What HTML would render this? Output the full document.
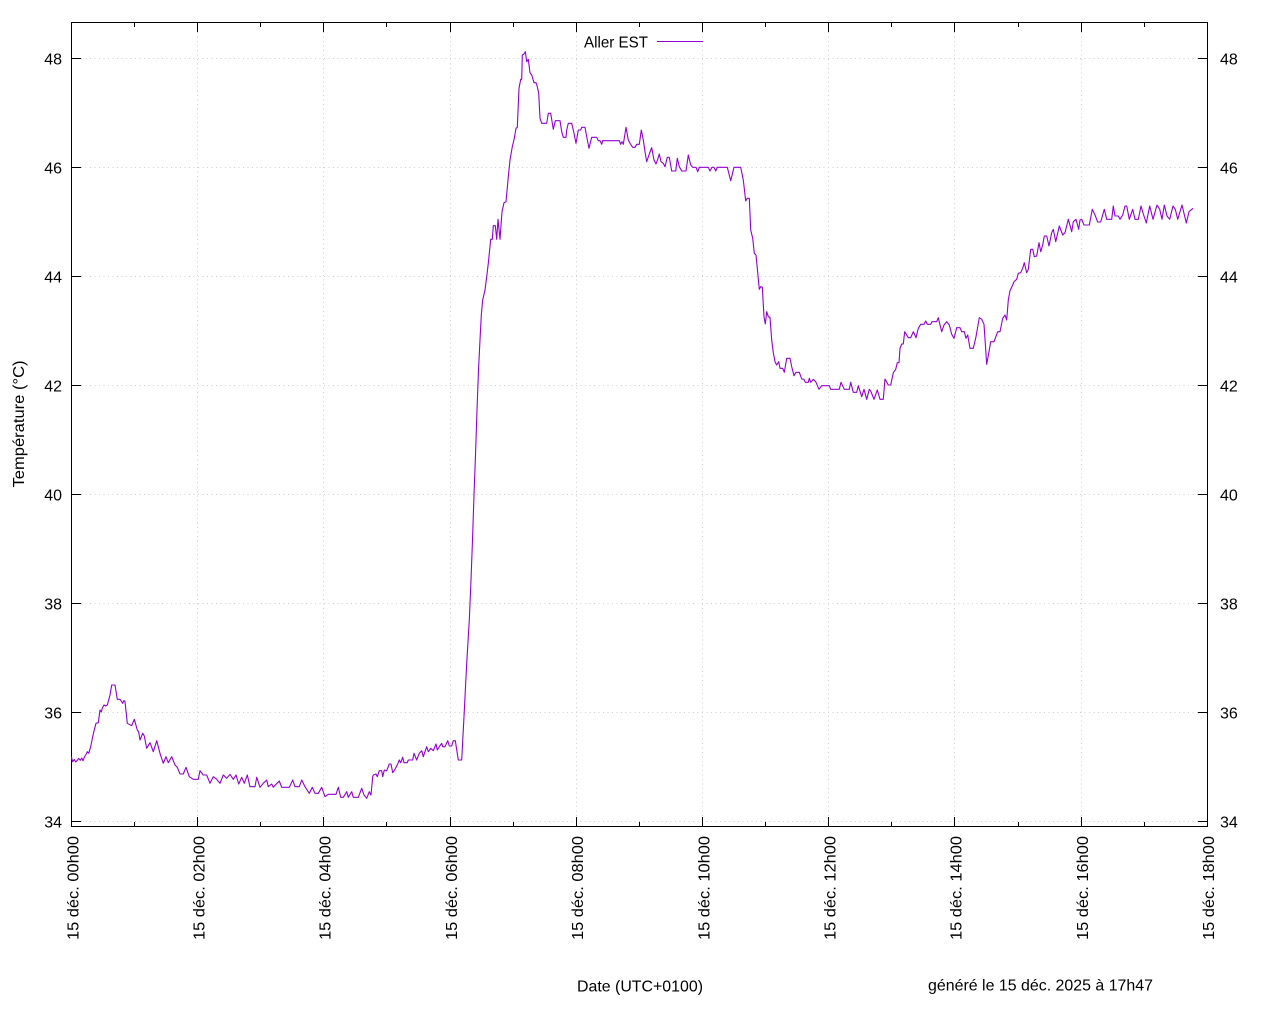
<!DOCTYPE html>
<html>
<head>
<meta charset="utf-8">
<style>
html,body{margin:0;padding:0;background:#fff;}
svg{display:block;}
text{font-family:"Liberation Sans","DejaVu Sans",sans-serif;fill:#000;}
</style>
</head>
<body>
<svg width="1280" height="1024" viewBox="0 0 1280 1024" xmlns="http://www.w3.org/2000/svg">
<rect x="0" y="0" width="1280" height="1024" fill="#fff"/>
<!-- grid -->
<g stroke="#cfcfcf" stroke-width="1" stroke-dasharray="1,3.5" fill="none">
<line x1="72" y1="58.5" x2="1207" y2="58.5"/>
<line x1="72" y1="167.5" x2="1207" y2="167.5"/>
<line x1="72" y1="276.5" x2="1207" y2="276.5"/>
<line x1="72" y1="385.5" x2="1207" y2="385.5"/>
<line x1="72" y1="494.5" x2="1207" y2="494.5"/>
<line x1="72" y1="603.5" x2="1207" y2="603.5"/>
<line x1="72" y1="712.5" x2="1207" y2="712.5"/>
<line x1="72" y1="821.5" x2="1207" y2="821.5"/>
<line x1="197.5" y1="23" x2="197.5" y2="826"/>
<line x1="323.5" y1="23" x2="323.5" y2="826"/>
<line x1="450.5" y1="23" x2="450.5" y2="826"/>
<line x1="576.5" y1="23" x2="576.5" y2="826"/>
<line x1="702.5" y1="23" x2="702.5" y2="826"/>
<line x1="828.5" y1="23" x2="828.5" y2="826"/>
<line x1="954.5" y1="23" x2="954.5" y2="826"/>
<line x1="1081.5" y1="23" x2="1081.5" y2="826"/>
</g>
<!-- frame -->
<rect x="71.5" y="22.5" width="1136" height="804" fill="none" stroke="#000" stroke-width="1"/>
<!-- ticks -->
<g stroke="#000" stroke-width="1">
<line x1="72" y1="58.5" x2="81" y2="58.5"/><line x1="1198" y1="58.5" x2="1207" y2="58.5"/>
<line x1="72" y1="167.5" x2="81" y2="167.5"/><line x1="1198" y1="167.5" x2="1207" y2="167.5"/>
<line x1="72" y1="276.5" x2="81" y2="276.5"/><line x1="1198" y1="276.5" x2="1207" y2="276.5"/>
<line x1="72" y1="385.5" x2="81" y2="385.5"/><line x1="1198" y1="385.5" x2="1207" y2="385.5"/>
<line x1="72" y1="494.5" x2="81" y2="494.5"/><line x1="1198" y1="494.5" x2="1207" y2="494.5"/>
<line x1="72" y1="603.5" x2="81" y2="603.5"/><line x1="1198" y1="603.5" x2="1207" y2="603.5"/>
<line x1="72" y1="712.5" x2="81" y2="712.5"/><line x1="1198" y1="712.5" x2="1207" y2="712.5"/>
<line x1="72" y1="821.5" x2="81" y2="821.5"/><line x1="1198" y1="821.5" x2="1207" y2="821.5"/>
<line x1="197.5" y1="817" x2="197.5" y2="826"/><line x1="197.5" y1="23" x2="197.5" y2="32"/>
<line x1="323.5" y1="817" x2="323.5" y2="826"/><line x1="323.5" y1="23" x2="323.5" y2="32"/>
<line x1="450.5" y1="817" x2="450.5" y2="826"/><line x1="450.5" y1="23" x2="450.5" y2="32"/>
<line x1="576.5" y1="817" x2="576.5" y2="826"/><line x1="576.5" y1="23" x2="576.5" y2="32"/>
<line x1="702.5" y1="817" x2="702.5" y2="826"/><line x1="702.5" y1="23" x2="702.5" y2="32"/>
<line x1="828.5" y1="817" x2="828.5" y2="826"/><line x1="828.5" y1="23" x2="828.5" y2="32"/>
<line x1="954.5" y1="817" x2="954.5" y2="826"/><line x1="954.5" y1="23" x2="954.5" y2="32"/>
<line x1="1081.5" y1="817" x2="1081.5" y2="826"/><line x1="1081.5" y1="23" x2="1081.5" y2="32"/>
<line x1="134.5" y1="822" x2="134.5" y2="826"/><line x1="134.5" y1="23" x2="134.5" y2="27"/>
<line x1="260.5" y1="822" x2="260.5" y2="826"/><line x1="260.5" y1="23" x2="260.5" y2="27"/>
<line x1="386.5" y1="822" x2="386.5" y2="826"/><line x1="386.5" y1="23" x2="386.5" y2="27"/>
<line x1="513.5" y1="822" x2="513.5" y2="826"/><line x1="513.5" y1="23" x2="513.5" y2="27"/>
<line x1="639.5" y1="822" x2="639.5" y2="826"/><line x1="639.5" y1="23" x2="639.5" y2="27"/>
<line x1="765.5" y1="822" x2="765.5" y2="826"/><line x1="765.5" y1="23" x2="765.5" y2="27"/>
<line x1="891.5" y1="822" x2="891.5" y2="826"/><line x1="891.5" y1="23" x2="891.5" y2="27"/>
<line x1="1018.5" y1="822" x2="1018.5" y2="826"/><line x1="1018.5" y1="23" x2="1018.5" y2="27"/>
<line x1="1144.5" y1="822" x2="1144.5" y2="826"/><line x1="1144.5" y1="23" x2="1144.5" y2="27"/>
</g>
<!-- y tick labels -->
<g font-size="16" text-anchor="end">
<text x="62" y="64.5">48</text>
<text x="62" y="173.5">46</text>
<text x="62" y="282.5">44</text>
<text x="62" y="391.5">42</text>
<text x="62" y="500.5">40</text>
<text x="62" y="609.5">38</text>
<text x="62" y="718.5">36</text>
<text x="62" y="827.5">34</text>
</g>
<g font-size="16" text-anchor="start">
<text x="1220" y="64.5">48</text>
<text x="1220" y="173.5">46</text>
<text x="1220" y="282.5">44</text>
<text x="1220" y="391.5">42</text>
<text x="1220" y="500.5">40</text>
<text x="1220" y="609.5">38</text>
<text x="1220" y="718.5">36</text>
<text x="1220" y="827.5">34</text>
</g>
<!-- x tick labels -->
<g font-size="16" text-anchor="end">
<text transform="translate(78.5,836) rotate(-90)" textLength="104" lengthAdjust="spacingAndGlyphs">15 déc. 00h00</text>
<text transform="translate(204.5,836) rotate(-90)" textLength="104" lengthAdjust="spacingAndGlyphs">15 déc. 02h00</text>
<text transform="translate(330.5,836) rotate(-90)" textLength="104" lengthAdjust="spacingAndGlyphs">15 déc. 04h00</text>
<text transform="translate(457,836) rotate(-90)" textLength="104" lengthAdjust="spacingAndGlyphs">15 déc. 06h00</text>
<text transform="translate(583,836) rotate(-90)" textLength="104" lengthAdjust="spacingAndGlyphs">15 déc. 08h00</text>
<text transform="translate(709.5,836) rotate(-90)" textLength="104" lengthAdjust="spacingAndGlyphs">15 déc. 10h00</text>
<text transform="translate(835.5,836) rotate(-90)" textLength="104" lengthAdjust="spacingAndGlyphs">15 déc. 12h00</text>
<text transform="translate(961.5,836) rotate(-90)" textLength="104" lengthAdjust="spacingAndGlyphs">15 déc. 14h00</text>
<text transform="translate(1088,836) rotate(-90)" textLength="104" lengthAdjust="spacingAndGlyphs">15 déc. 16h00</text>
<text transform="translate(1214,836) rotate(-90)" textLength="104" lengthAdjust="spacingAndGlyphs">15 déc. 18h00</text>
</g>
<!-- axis labels -->
<text transform="translate(24,424) rotate(-90)" font-size="16" text-anchor="middle" textLength="127" lengthAdjust="spacingAndGlyphs">Température (°C)</text>
<text x="577" y="991.5" font-size="16" textLength="126" lengthAdjust="spacingAndGlyphs">Date (UTC+0100)</text>
<text x="928" y="990.5" font-size="16" textLength="225" lengthAdjust="spacingAndGlyphs">généré le 15 déc. 2025 à 17h47</text>
<!-- legend -->
<text x="648" y="47.5" font-size="16" text-anchor="end" textLength="64" lengthAdjust="spacingAndGlyphs">Aller EST</text>
<line x1="657" y1="41.5" x2="703" y2="41.5" stroke="#9400d3" stroke-width="1"/>
<!-- data -->
<polyline fill="none" stroke="#9400d3" stroke-width="1.1" stroke-linejoin="round" points="
71.3,756.7 72.7,761.7 74.3,759.5 75.7,762 77.3,760.3 78.7,758.3 80.3,760.3 81.7,758 83,760.7 84.7,756.5 86.3,754 87.3,751.7 88.7,753.3 90.7,746.7 92.7,736.7 94,731 96,723.3 98.3,722.7 100,710 101.3,712 102.3,708 104,705 105.7,706 107.3,705 110,695 111.7,685 115,685 117.3,699.3 120,699.3 122.7,703.3 124,700.5 125,701.7 127.3,723.3 131.7,725.7 134.3,719.3 137.3,730 138.7,732 140,740 142.7,733.3 144.3,736 146.7,748.3 150,742.7 153.3,751.7 156.7,740.7 160,753.3 163.3,763.3 166,756.7 168.3,762.7 171.7,756.7 175,765 177.3,767.3 180,774 183.3,774 186,767.3 189.3,776.7 193.3,779.3 198.3,779.3 200,770.7 203.3,775 206.7,775
210,783.3 213.3,776.7 216.7,779.3 220,783.3 223.3,775 226.7,778.3 230,774.3 233.3,779.3 236,775 238.7,784 241.7,777.3 244.3,783.3 247.3,775 250,786.7 255,786.7 256.7,777.3 260,787.3 263.3,783.3 266.7,780 268.3,786.7 271.7,784 273.3,787.3 276,784.3 279.3,781 281.7,787.3 289.3,787.3 292.7,780 295,786.7 299.3,786.7 301.7,780 305,786.7 309.3,793.3 312.3,787.3 315,793.3 318.3,793.3 321.7,787.3 325,796.7 328.3,794.3 336,794.3 338.3,787.3 340.7,797.3 343.3,797.3 346.7,791.7 348.3,797.3 351.7,791.7 353.3,797.3 358.3,797.3 361.7,788.3 364,795 366.7,798.3 369.3,791.7 371,795
372.7,776.7 373.3,775 376,774 377.3,776.7 379.3,770.7 381.7,770.7 382.7,776.7 384.3,770 386.7,770.7 389.3,764 391,764 392.7,772.7 395,769.3 397.7,764 399.3,760 400.7,762.7 402.7,757.3 404,762.7 407.3,762.7 408.3,760 412.7,760 414,753.3 416.7,760 419.3,753.3 421.7,750.7 423.3,756.7 426.7,746.7 428.3,751.7 430.7,748.3 433.3,750.7 436,744 437.3,750 439.3,746.7 441.7,743.3 442.7,746.7 445,746.7 447.7,740.7 449.3,746 451.7,746 453.3,740.7 455.3,740.7 458.3,760 461.7,760
464,716.7 466.7,663.3 469.3,620 471,580 472.5,540 474,495 475.5,455 477,410 478.5,370 480,340 481.3,315 482.7,300 485,290 486.7,276.7 488.3,263.3 490.7,239.3 492.3,239.3 493.3,225.7 495.3,225.7 496.7,239.3 498,219.3 500,239.3 502,211.7 504,202.7 506,201.7 508.3,176.7 510,160 512.3,146.7 514.3,138.3 516,128.3 517.3,127.3 519,88.3 520.7,79.3 521.7,79.3 522.3,55 524,54 525.3,51.7 526.7,61.7 528.3,59.3 530,72.7 531.7,75 534,82.7 536,82.7 537.3,86.7 538.7,93.3 540,118.3 541.7,123.3 546.7,123.3 548.3,113.3 550.7,113.3 553.3,129.3 555.3,120.7 560,120.7 561.7,131.7 563.3,137.3 566,137.3 566.7,130 568.3,123.3 571.7,123.3 574,133.3 576,143.3 578.3,130
580.7,130 581.7,127.3 585,127.3 586.7,136.7 589,148.3 591.7,137.3 596.7,137.3 598.3,140.7 600,140.7 601.7,144.3 602.7,140.7 619.3,140.7 620.7,144.3 622,141.7 623.3,144.3 626,127.3 628.3,140 630,143.3 632.7,147.3 635,147.3 636.7,144.3 639.3,144.3 641.3,130 643.3,140 645,151.7 646.7,161.7 649.3,154 651.7,147.7 654,160 656,164 657.7,159.3 659.3,154 661,161.7 663.3,163.3 665,166.7 667.3,157.3 669.3,157.3 671.7,171 675.7,171 677.3,158.3 679.3,166.7 681.7,171 686,171 688.3,155 690.7,165 692.7,167.3 696,167.3 697.7,171.7 699.3,167.3 708.3,167.3 710,171 712,167.3 714,167.3 715.7,171 717.3,167.3 727.3,167.3 730.7,180.7 734,167.3 740.7,167.3 743.3,180 745.7,201 747.3,198.3 749.3,198.3
750.7,230 752.7,238.3 754.3,253.3 756,255 757.3,268.3 759.3,289.3 760.7,286.7 762.3,287.3 764,316.7 765.3,324 766.7,311.7 768.3,316.7 770,317.3 771.7,340 773.3,352.7 775,361.7 776.7,365 778.7,361.7 780,368.3 782.7,368.3 784.3,372.3 786.7,358.3 790,358.3 791.7,366.7 794,375.7 796,372.3 799.3,372.3 801.7,379 804,379.3 805.3,382.3 808.3,382.3 809.3,378.3 810.7,382.3 813.3,379.3 815.7,381.7 819,389.3 821.7,385.7 829.3,385.7 830.7,389.3 839.3,389.3 841,382.3 844.3,389.3 849.3,389.3 850.7,382.3 853.3,392.3 856.7,392.3 858.3,385.7 861.7,396.7 864,389.3 866.7,399.3 869.3,389.3 870.7,391 874,399.3 877.3,390 880,399.3 883.3,399.3 885,379 888.3,385 890.7,385 893.3,372.7 895.7,369.3 897.3,362.7 899,362.7
900,348.3 901.7,344 903.3,344 904.7,331.7 908.3,337.7 910.7,337.7 913.3,331.7 916,337.7 918.3,328.3 920.7,324.3 924,324.3 925.7,321 927.3,324.3 930.7,324.3 932,321.7 936.7,321.7 938.3,317.7 941.7,331.7 944,325 946.7,321.7 949.3,325 951.7,334.3 954,338.3 956.7,327.7 960,327.7 961.7,331.7 964.3,331.7 966,338.3 967.7,335 970,348.3 973.3,348.3 976,336.7 979.3,317.7 981.7,319.3 984,324.3 986.7,364.3 989,351.7 990.7,341.7 994,341.7 997.7,331.7 1000,331.7 1002.7,318.3 1005,315 1006.7,320 1008.3,300 1010,290.7 1012.7,285 1014,281.7 1016.7,279.3 1018.3,273.3 1020.7,272.7 1022.7,268.3 1024.3,262.7 1026.7,272.7 1028.3,269.3
1030.7,249.3 1032.7,249.3 1034.3,256.7 1036.7,256 1039,242.7 1040.7,251.7 1042.7,245 1044.3,236 1046.7,236 1049,246 1051.7,232.7 1053.3,229.3 1055.7,241.7 1059.3,226 1062.7,235 1065,232.7 1068.3,219.3 1071.7,231.7 1073.3,221.7 1076,219.3 1078.7,229.3 1080,220 1081.7,219.3 1084,225 1089.3,225 1092.3,209.3 1095,215 1097.7,222 1100.7,222 1104.3,209.3 1106.7,219.3 1111.7,219.3 1113.3,206 1115,216 1118.3,216 1120,219.3 1122.7,215 1125,206 1126.7,206 1129.3,219.3 1132.7,209.3 1135,219.3 1138.3,219.3 1141,206 1143,213 1146.3,223 1149.7,206 1153,219.3 1157,205 1159.7,209.3 1162,219.3 1164.3,205 1167,216 1169.7,219.3 1173,206 1175.3,209.3 1177.7,219.3 1182,205 1186.3,223 1189,211.7 1193,208.3"/>
</svg>
</body>
</html>
